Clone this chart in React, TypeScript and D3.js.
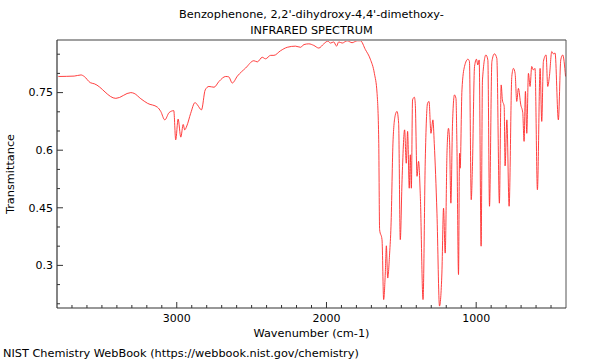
import { useEffect, useRef } from 'react';
import * as d3 from 'd3';

const wavenumbers = [
  3791, 3685, 3640, 3618, 3578, 3551, 3407, 3307, 3285, 3240, 3195, 3129, 3107, 3080, 3051, 3020,
  3007, 2991, 2973, 2957, 2947, 2933, 2907, 2878, 2862, 2835, 2810, 2785, 2751, 2718, 2673, 2653,
  2629, 2595, 2540, 2485, 2462, 2429, 2407, 2373, 2351, 2307, 2262, 2207, 2173, 2151, 2118, 2085,
  2051, 2018, 1991, 1973, 1951, 1933, 1918, 1895, 1862, 1829, 1795, 1773, 1740, 1707, 1680, 1662,
  1651, 1645, 1629, 1618, 1607, 1600, 1591, 1578, 1569, 1555, 1540, 1529, 1518, 1507, 1495, 1478,
  1467, 1458, 1447, 1440, 1433, 1425, 1413, 1407, 1395, 1385, 1373, 1355, 1340, 1325, 1315, 1302,
  1289, 1280, 1262, 1245, 1229, 1218, 1207, 1195, 1185, 1178, 1169, 1158, 1145, 1135, 1129, 1118,
  1111, 1107, 1095, 1078, 1055, 1045, 1033, 1025, 1011, 998, 989, 980, 967, 958, 935, 922,
  911, 895, 878, 862, 845, 833, 825, 813, 807, 795, 780, 762, 751, 740, 729, 718,
  702, 689, 680, 671, 662, 651, 640, 629, 618, 607, 591, 573, 562, 551, 533, 522,
  511, 495, 485, 473, 451, 435, 422, 403,
];
const transmittance = [
  0.792, 0.793, 0.796, 0.792, 0.776, 0.773, 0.735, 0.75, 0.748, 0.734, 0.722, 0.712, 0.701, 0.679, 0.698, 0.703,
  0.627, 0.681, 0.634, 0.667, 0.653, 0.663, 0.696, 0.724, 0.718, 0.705, 0.757, 0.766, 0.764, 0.779, 0.792, 0.791,
  0.775, 0.793, 0.814, 0.833, 0.83, 0.842, 0.838, 0.847, 0.847, 0.859, 0.868, 0.871, 0.868, 0.875, 0.877, 0.873,
  0.866, 0.877, 0.884, 0.879, 0.882, 0.871, 0.882, 0.879, 0.885, 0.88, 0.885, 0.885, 0.862, 0.837, 0.8, 0.748,
  0.627, 0.393, 0.367, 0.211, 0.28, 0.351, 0.267, 0.332, 0.402, 0.627, 0.692, 0.701, 0.67, 0.367, 0.523, 0.653,
  0.566, 0.649, 0.501, 0.588, 0.501, 0.731, 0.738, 0.722, 0.532, 0.571, 0.48, 0.211, 0.575, 0.722, 0.727, 0.644,
  0.679, 0.618, 0.436, 0.194, 0.28, 0.449, 0.332, 0.592, 0.657, 0.627, 0.462, 0.67, 0.744, 0.735, 0.623, 0.276,
  0.592, 0.553, 0.757, 0.818, 0.837, 0.831, 0.471, 0.558, 0.818, 0.837, 0.822, 0.835, 0.35, 0.783, 0.848, 0.835,
  0.454, 0.831, 0.851, 0.839, 0.462, 0.77, 0.731, 0.714, 0.559, 0.679, 0.454, 0.792, 0.813, 0.8, 0.727, 0.761,
  0.718, 0.698, 0.623, 0.753, 0.644, 0.8, 0.766, 0.818, 0.809, 0.813, 0.497, 0.813, 0.675, 0.831, 0.848, 0.766,
  0.792, 0.857, 0.851, 0.853, 0.679, 0.835, 0.848, 0.792,
];

const xTicks = [3000, 2000, 1000];
const yTicks = [0.3, 0.45, 0.6, 0.75];

const W = 600;
const H = 360;
const m = { top: 40, right: 34, bottom: 52, left: 57 };

export default function App() {
  const ref = useRef<SVGSVGElement>(null);

  useEffect(() => {
    const svg = d3.select(ref.current);
    svg.selectAll('*').remove();
    const font = 'DejaVu Sans, sans-serif';
    const fs = 11.3;

    const x = d3.scaleLinear().domain([3800, 400]).range([m.left, W - m.right]);
    const y = d3.scaleLinear().domain([0.189, 0.887]).range([H - m.bottom, m.top]);

    const data = wavenumbers.map((w, i) => [w, transmittance[i]] as [number, number]);

    const g = svg.append('g');

    // minor ticks, pointing inwards
    const xMinor = d3.range(3700, 400, -100);
    g.selectAll('.xm').data(xMinor).enter().append('line')
      .attr('x1', (d) => x(d)).attr('x2', (d) => x(d))
      .attr('y1', H - m.bottom).attr('y2', (d) => H - m.bottom - (d % 1000 === 0 ? 6 : 3))
      .attr('stroke', '#333');
    const yMinor = d3.range(4, 18).map((k) => k * 0.05);
    g.selectAll('.ym').data(yMinor).enter().append('line')
      .attr('x1', m.left).attr('x2', (_d, i) => m.left + ((i + 4) % 3 === 0 ? 6 : 3))
      .attr('y1', (d) => y(d)).attr('y2', (d) => y(d))
      .attr('stroke', '#333');

    g.selectAll('.xl').data(xTicks).enter().append('text')
      .attr('x', (d) => x(d)).attr('y', H - m.bottom + 14)
      .attr('text-anchor', 'middle').attr('font-family', font).attr('font-size', 11)
      .text((d) => String(d));
    g.selectAll('.yl').data(yTicks).enter().append('text')
      .attr('x', m.left - 4).attr('y', (d) => y(d)).attr('dy', '0.35em')
      .attr('text-anchor', 'end').attr('font-family', font).attr('font-size', 11)
      .text((d) => String(d));

    const line = d3.line<[number, number]>()
      .x((d) => x(d[0])).y((d) => y(d[1]))
      .curve(d3.curveMonotoneX);

    svg.append('defs').append('clipPath').attr('id', 'plotclip')
      .append('rect').attr('x', m.left).attr('y', m.top)
      .attr('width', W - m.left - m.right).attr('height', H - m.top - m.bottom);

    g.append('path').datum(data)
      .attr('d', line)
      .attr('fill', 'none')
      .attr('stroke', '#ff2a2a')
      .attr('stroke-width', 0.9)
      .attr('clip-path', 'url(#plotclip)');

    // frame
    g.append('line').attr('x1', m.left).attr('x2', W - m.right).attr('y1', m.top).attr('y2', m.top)
      .attr('stroke', '#a0a0a0').attr('stroke-width', 2);
    g.append('line').attr('x1', W - m.right).attr('x2', W - m.right).attr('y1', m.top).attr('y2', H - m.bottom)
      .attr('stroke', '#555').attr('stroke-width', 1);
    g.append('line').attr('x1', m.left).attr('x2', m.left).attr('y1', m.top).attr('y2', H - m.bottom)
      .attr('stroke', '#333').attr('stroke-width', 1.2);
    g.append('line').attr('x1', m.left).attr('x2', W - m.right).attr('y1', H - m.bottom).attr('y2', H - m.bottom)
      .attr('stroke', '#333').attr('stroke-width', 1.2);

    const cx = (m.left + W - m.right) / 2;
    svg.append('text').attr('x', cx).attr('y', 18).attr('text-anchor', 'middle')
      .attr('font-family', font).attr('font-size', fs)
      .text("Benzophenone, 2,2'-dihydroxy-4,4'-dimethoxy-");
    svg.append('text').attr('x', cx).attr('y', 34).attr('text-anchor', 'middle')
      .attr('font-family', font).attr('font-size', fs)
      .text('INFRARED SPECTRUM');
    svg.append('text').attr('x', cx).attr('y', 337).attr('text-anchor', 'middle')
      .attr('font-family', font).attr('font-size', fs)
      .text('Wavenumber (cm-1)');
    svg.append('text').attr('transform', `translate(14,${(m.top + H - m.bottom) / 2}) rotate(-90)`)
      .attr('text-anchor', 'middle')
      .attr('font-family', font).attr('font-size', fs)
      .text('Transmittance');
    svg.append('text').attr('x', 3).attr('y', 357)
      .attr('font-family', font).attr('font-size', fs)
      .text('NIST Chemistry WebBook (https://webbook.nist.gov/chemistry)');
  }, []);

  return (
    <svg ref={ref} width={W} height={H} style={{ position: 'absolute', left: 0, top: 0, background: '#fff' }} />
  );
}
